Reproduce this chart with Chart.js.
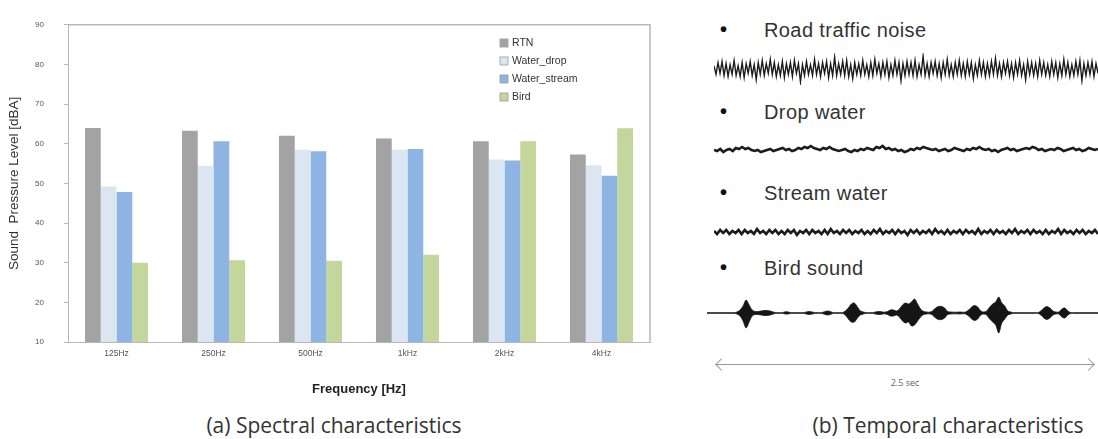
<!DOCTYPE html>
<html>
<head>
<meta charset="utf-8">
<script src="https://cdn.jsdelivr.net/npm/chart.js@4.4.1/dist/chart.umd.min.js"></script>
<style>
  html, body { margin: 0; padding: 0; background: #fff; }
  body { width: 1098px; height: 439px; position: relative; overflow: hidden; font-family: "Open Sans", "Liberation Sans", Arial, sans-serif; color: #222; }
  canvas { position: absolute; }
  .lbl { position: absolute; font-family: "Liberation Sans", Arial, sans-serif; font-size: 20px; letter-spacing: 0.4px; white-space: nowrap; color: #333; }
  .lbl span { position: absolute; left: -44px; top: -1px; font-size: 20px; font-weight: bold; color: #111; }
  .cap { position: absolute; top: 411px; font-size: 21px; white-space: nowrap; color: #333; transform: translateX(-50%); }
  #arrow { position: absolute; left: 716px; top: 364px; width: 378px; border-top: 1px solid #999; }
  .head { position: absolute; top: -5px; width: 8px; height: 8px; border-left: 1px solid #999; border-bottom: 1px solid #999; }
  #dur { position: absolute; left: 905px; top: 376px; font-size: 9px; color: #666; transform: translateX(-50%); }
</style>
</head>
<body>
<canvas id="bars" width="660" height="400" style="left:0;top:0"></canvas>

<div class="lbl" style="left:764px;top:19px"><span>•</span>Road traffic noise</div>
<canvas id="road" width="384" height="32" style="left:714px;top:53px"></canvas>
<div class="lbl" style="left:764px;top:101px"><span>•</span>Drop water</div>
<canvas id="drop" width="384" height="28" style="left:714px;top:136px"></canvas>
<div class="lbl" style="left:764px;top:182px"><span>•</span>Stream water</div>
<canvas id="stream" width="384" height="28" style="left:714px;top:218px"></canvas>
<div class="lbl" style="left:764px;top:257px"><span>•</span>Bird sound</div>
<canvas id="bird" width="391" height="46" style="left:707px;top:290px"></canvas>

<div id="arrow">
  <div class="head" style="left:1px;transform:rotate(45deg)"></div>
  <div class="head" style="right:1px;transform:rotate(-135deg)"></div>
</div>
<div id="dur">2.5 sec</div>

<div class="cap" style="left:334px">(a) Spectral characteristics</div>
<div class="cap" style="left:948px">(b) Temporal characteristics</div>

<script>
// octave bands
const frequencies = ["125Hz", "250Hz", "500Hz", "1kHz", "2kHz", "4kHz"];

// sound pressure level [dBA] per band
const rtn = [64.0, 63.3, 62.0, 61.3, 60.6, 57.3];
const waterDrop = [49.2, 54.4, 58.5, 58.5, 56.0, 54.6];
const waterStream = [47.8, 60.6, 58.1, 58.7, 55.8, 51.9];
const bird = [30.0, 30.6, 30.5, 32.0, 60.6, 63.9];

const yTicks = [10, 20, 30, 40, 50, 60, 70, 80, 90];

// waveform samples (arbitrary amplitude)
const roadWave = [
  3,-5,6,-4,7,-6,5,-7,4,-5,8,-6,3,-7,6,-8,5,-4,7,-6,4,-10,6,-5,
  8,-6,5,-4,9,-5,6,-7,4,-6,7,-8,5,-5,6,-7,8,-4,5,-12,4,-6,7,-5,
  4,-6,9,-5,5,-7,6,-4,7,-8,5,-6,11,-6,5,-5,7,-6,8,-7,4,-9,6,-5,
  5,-6,8,-5,4,-7,6,-6,9,-4,5,-7,6,-5,7,-8,4,-6,8,-5,6,-11,5,-6,
  7,-5,6,-6,8,-7,4,-5,12,-6,5,-7,6,-4,7,-6,5,-8,6,-5,9,-6,4,-7,
  6,-5,8,-6,5,-7,7,-5,6,-9,4,-6,8,-5,6,-7,5,-6,7,-5,10,-6,5,-7,
  6,-4,7,-6,5,-8,6,-5,8,-6,4,-10,7,-5,6,-6,5,-7,8,-5,6,-6,4,-7,
  7,-5,6,-8,5,-6,9,-5,6,-7,4,-6,7,-5,8,-11,5,-6,6,-5,7,-7,5,-4,
];
const dropWave = [0,-1,1,-2,0,1,-1,2,1,3,1,2,0,-1,0,-2,-1,0,1,-1,0,1,2,0,1,-1,0,2,1,3,2,4,2,1,0,2,1,3,1,0,-1,0,1,-1,-2,0,-1,1,0,2,1,0,3,2,4,1,2,0,1,-1,0,-2,-1,1,0,2,1,3,2,1,0,1,-1,0,1,-1,0,2,1,0,-1,1,0,2,1,3,1,0,1,-1,0,-2,0,1,2,0,1,-1,0,1,2,1,3,2,0,1,-1,0,1,0,2,1,-1,0,1,2,0,1,-1,0,2,1,0,1];
const streamWave = [1,-2,2,-1,2,-2,1,-1,2,-2,2,-1,1,-2,3,-1,1,-2,2,-1,2,-2,1,-2,2,-1,2,-3,1,-1,2,-2,2,-1,1,-2,2,-2,3,-1,1,-2,2,-1,2,-2,1,-1,2,-2,1,-2,2,-1,3,-2,1,-1,2,-2,2,-1,1,-3,2,-1,2,-2,1,-1,2,-2,3,-1,1,-2,2,-2,1,-1,2,-2,2,-1,1,-2,3,-2,1,-1,2,-2,2,-1,1,-2,2,-1,3,-2,1,-1,2,-2,2,-1,1,-2,2,-2,1,-1,3,-2,2,-1,1,-2,2,-1,2,-2,1,-1,2,-2];
// bird calls: upper and lower envelope of the trace
const birdUpper = [
  0.3,0.3,0.3,0.3,0.3,0.3,0.3,0.3,0.3,0.3,
  1,3,7,13,8,3,1.5,1.5,2,2.5,
  2.5,2,1,0.3,0.3,0.3,1.2,1,0.3,0.3,
  0.3,0.3,0.3,1,1.5,1,0.3,0.3,0.3,1.2,
  2,1.5,0.3,0.3,0.3,0.3,2,5,9,10,
  6,2,1,0.3,0.3,0.3,1,1.5,1.2,0.8,
  1.5,3,3,2,4,8,10,9,11,14,
  9,4,1.5,1,0.8,2,5,6.5,6.5,5,
  1.5,1,0.8,0.8,1,0.8,1,3,6,7.5,
  6,2,1,2,6,9,11,16,10,7,
  2,1,0.3,0.3,0.3,0.3,0.3,0.3,0.3,0.3,
  0.3,2,5,6.5,5,2,1,1,4,5,
  2,0.3,0.3,0.3,0.3,0.3,0.3,0.3,0.3,0.3,0.3,
];
const birdLower = [
  -0.3,-0.3,-0.3,-0.3,-0.3,-0.3,-0.3,-0.3,-0.3,-0.3,
  -1,-3,-8,-15,-9,-3,-1.5,-1.5,-2,-2.5,
  -2.5,-2,-1,-0.3,-0.3,-0.3,-1,-1,-0.3,-0.3,
  -0.3,-0.3,-0.3,-1,-1.5,-1,-0.3,-0.3,-0.3,-1.2,
  -2,-1.5,-0.3,-0.3,-0.3,-0.3,-2,-6,-9,-9,
  -5,-2,-1,-0.3,-0.3,-0.3,-1,-1.5,-1.2,-0.8,
  -1.5,-3,-3,-2,-4,-8,-10,-9,-13,-12,
  -8,-4,-1.5,-1,-0.8,-2,-5,-6.5,-6.5,-5,
  -1.5,-1,-0.8,-0.8,-1,-0.8,-1,-3,-6,-7.5,
  -6,-2,-1,-2,-6,-9,-12,-20,-10,-6,
  -2,-1,-0.3,-0.3,-0.3,-0.3,-0.3,-0.3,-0.3,-0.3,
  -0.3,-2,-5,-6.5,-5,-2,-1,-1,-4,-5,
  -2,-0.3,-0.3,-0.3,-0.3,-0.3,-0.3,-0.3,-0.3,-0.3,-0.3,
];

Chart.defaults.font.family = "'Liberation Sans', Arial, sans-serif";
Chart.defaults.animation = false;

// plot box: top and right edges
const frame = {
  id: "frame",
  beforeDatasetsDraw(chart) {
    const { ctx, chartArea: a } = chart;
    ctx.save();
    ctx.strokeStyle = "#b8b8b8";
    ctx.lineWidth = 1.5;
    ctx.beginPath();
    ctx.moveTo(a.left, a.top);
    ctx.lineTo(a.right, a.top);
    ctx.lineTo(a.right, a.bottom);
    ctx.stroke();
    ctx.restore();
  },
};

// legend inside the plot, top right
const boxLegend = {
  id: "boxLegend",
  afterDraw(chart) {
    const { ctx } = chart;
    ctx.save();
    ctx.font = "10.5px 'Liberation Sans', Arial, sans-serif";
    ctx.textBaseline = "middle";
    chart.data.datasets.forEach((ds, i) => {
      const y = 43 + i * 18;
      ctx.fillStyle = ds.backgroundColor;
      ctx.fillRect(500, y - 4, 8, 8);
      ctx.strokeStyle = "#999";
      ctx.lineWidth = 0.8;
      ctx.strokeRect(500, y - 4, 8, 8);
      ctx.fillStyle = "#333";
      ctx.fillText(ds.label, 512, y);
    });
    ctx.restore();
  },
};

new Chart(document.getElementById("bars"), {
  type: "bar",
  data: {
    labels: frequencies,
    datasets: [
      { label: "RTN", data: rtn, backgroundColor: "#a3a3a3" },
      { label: "Water_drop", data: waterDrop, backgroundColor: "#dce6f2" },
      { label: "Water_stream", data: waterStream, backgroundColor: "#8eb4e3" },
      { label: "Bird", data: bird, backgroundColor: "#c3d69b" },
    ],
  },
  options: {
    responsive: false,
    layout: { padding: { top: 20, right: 10, left: 0, bottom: 0 } },
    datasets: { bar: { categoryPercentage: 0.65, barPercentage: 1.0 } },
    plugins: { legend: { display: false }, tooltip: { enabled: false } },
    scales: {
      x: {
        grid: { drawOnChartArea: false, drawTicks: false },
        border: { display: true, color: "#b8b8b8" },
        ticks: { color: "#555", font: { size: 8.5 }, padding: 7 },
        title: { display: true, text: "Frequency [Hz]", color: "#222", font: { size: 13, weight: "bold" }, padding: { top: 0, bottom: 3 } },
        afterFit: (s) => { s.width = s.width; s.height = 58; },
      },
      y: {
        min: 10,
        max: 90,
        afterBuildTicks: (s) => { s.ticks = yTicks.map((v) => ({ value: v })); },
        grid: { drawOnChartArea: false, tickLength: 4, color: "#b8b8b8" },
        border: { display: true, color: "#b8b8b8" },
        ticks: { color: "#555", font: { size: 8 }, padding: 20 },
        title: { display: true, text: "Sound  Pressure Level [dBA]", color: "#333", font: { size: 13.5 }, padding: { top: 6, bottom: 0 } },
        afterFit: (s) => { s.width = 68; },
      },
    },
  },
  plugins: [frame, boxLegend],
});

function wave(id, datasets, lim) {
  new Chart(document.getElementById(id), {
    type: "line",
    data: {
      labels: datasets[0].data.map((_, i) => i),
      datasets: datasets,
    },
    options: {
      responsive: false,
      layout: { padding: 0 },
      elements: { point: { radius: 0 } },
      plugins: { legend: { display: false }, tooltip: { enabled: false } },
      scales: {
        x: { display: false, offset: false },
        y: { display: false, min: -lim, max: lim },
      },
    },
  });
}

wave("road", [{ data: roadWave, borderColor: "#1c1c1c", borderWidth: 1.4, tension: 0 }], 15);
wave("drop", [{ data: dropWave, borderColor: "#1c1c1c", borderWidth: 2.6, tension: 0 }], 14);
wave("stream", [{ data: streamWave, borderColor: "#1c1c1c", borderWidth: 2.6, tension: 0 }], 14);
wave("bird", [
  { data: birdUpper, borderColor: "#151515", backgroundColor: "#151515", borderWidth: 0.8, tension: 0.3, fill: "+1" },
  { data: birdLower, borderColor: "#151515", borderWidth: 0.8, tension: 0.3, fill: false },
], 23);
</script>
</body>
</html>
